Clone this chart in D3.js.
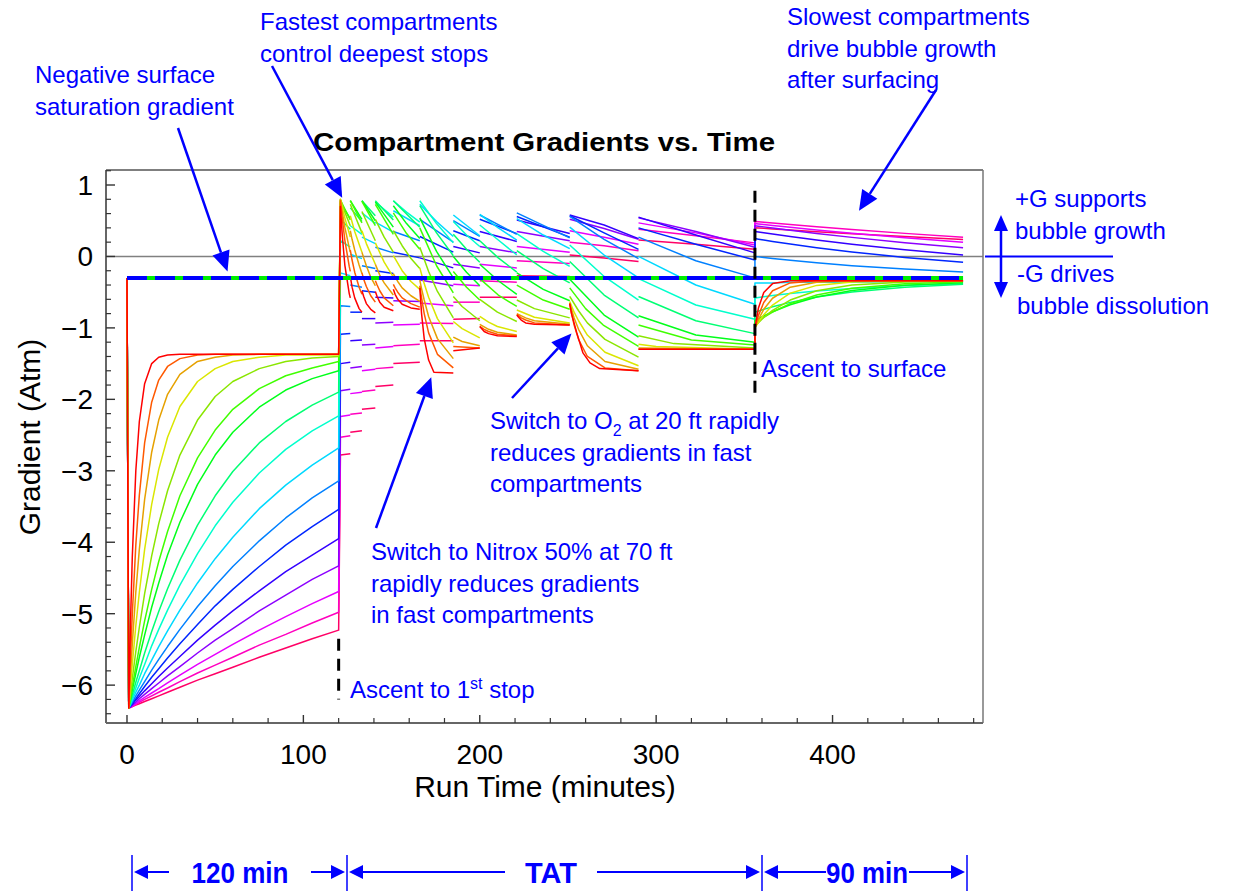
<!DOCTYPE html>
<html>
<head>
<meta charset="utf-8">
<script src="https://cdn.jsdelivr.net/npm/d3@7"></script>
<style>
  body { margin: 0; background: #fff; }
  svg text { font-family: "Liberation Sans", Arial, Helvetica, sans-serif; }
</style>
</head>
<body>
<div id="chart-area"></div>
<script>
// 17 tissue compartments, fastest (red) to slowest (crimson)

// bottom phase: descent at t=0, then on-gassing at depth until 120 min
const bottomTimes = [0, 1, 2, 3, 5, 7, 10, 14, 18, 23, 30, 40, 50, 60, 75, 90, 105, 120];
const bottomGradients = [
  [-0.30, -6.32, -5.12, -4.21, -3.00, -2.31, -1.78, -1.50, -1.41, -1.38, -1.37, -1.37, -1.37, -1.37, -1.37, -1.37, -1.37, -1.37],
  [-0.30, -6.32, -5.61, -5.01, -4.04, -3.34, -2.61, -2.04, -1.73, -1.54, -1.43, -1.38, -1.37, -1.37, -1.37, -1.37, -1.37, -1.37],
  [-0.30, -6.32, -5.85, -5.43, -4.70, -4.10, -3.40, -2.74, -2.29, -1.93, -1.65, -1.47, -1.41, -1.38, -1.37, -1.37, -1.37, -1.37],
  [-0.30, -6.32, -6.00, -5.71, -5.17, -4.70, -4.10, -3.47, -2.98, -2.53, -2.10, -1.75, -1.57, -1.47, -1.41, -1.38, -1.38, -1.38],
  [-0.30, -6.32, -6.11, -5.91, -5.53, -5.19, -4.72, -4.19, -3.74, -3.28, -2.78, -2.29, -1.96, -1.75, -1.57, -1.47, -1.42, -1.40],
  [-0.30, -6.32, -6.17, -6.02, -5.74, -5.47, -5.10, -4.66, -4.27, -3.85, -3.35, -2.82, -2.43, -2.14, -1.85, -1.67, -1.56, -1.47],
  [-0.30, -6.32, -6.20, -6.07, -5.84, -5.61, -5.30, -4.91, -4.57, -4.18, -3.72, -3.19, -2.78, -2.46, -2.11, -1.87, -1.71, -1.60],
  [-0.30, -6.32, -6.23, -6.14, -5.96, -5.80, -5.55, -5.25, -4.97, -4.65, -4.25, -3.76, -3.35, -3.01, -2.61, -2.31, -2.08, -1.90],
  [-0.30, -6.32, -6.25, -6.18, -6.04, -5.90, -5.71, -5.45, -5.22, -4.95, -4.60, -4.16, -3.77, -3.44, -3.03, -2.70, -2.44, -2.23],
  [-0.30, -6.32, -6.27, -6.21, -6.10, -6.00, -5.84, -5.65, -5.46, -5.24, -4.95, -4.57, -4.23, -3.93, -3.53, -3.20, -2.92, -2.68],
  [-0.30, -6.32, -6.28, -6.24, -6.15, -6.07, -5.95, -5.79, -5.64, -5.46, -5.22, -4.90, -4.61, -4.34, -3.98, -3.66, -3.38, -3.14],
  [-0.30, -6.32, -6.29, -6.25, -6.19, -6.12, -6.02, -5.89, -5.77, -5.62, -5.42, -5.15, -4.89, -4.66, -4.34, -4.04, -3.78, -3.54],
  [-0.30, -6.32, -6.30, -6.27, -6.21, -6.16, -6.08, -5.98, -5.88, -5.76, -5.60, -5.37, -5.16, -4.96, -4.68, -4.41, -4.18, -3.95],
  [-0.30, -6.32, -6.30, -6.28, -6.24, -6.19, -6.13, -6.05, -5.97, -5.87, -5.74, -5.55, -5.37, -5.21, -4.96, -4.74, -4.52, -4.33],
  [-0.30, -6.32, -6.31, -6.29, -6.26, -6.22, -6.17, -6.11, -6.05, -5.97, -5.86, -5.71, -5.57, -5.43, -5.23, -5.04, -4.86, -4.69],
  [-0.30, -6.32, -6.31, -6.30, -6.27, -6.24, -6.20, -6.15, -6.10, -6.04, -5.95, -5.83, -5.72, -5.61, -5.44, -5.29, -5.13, -4.98],
  [-0.30, -6.32, -6.31, -6.30, -6.28, -6.26, -6.23, -6.19, -6.15, -6.10, -6.03, -5.93, -5.84, -5.75, -5.61, -5.48, -5.35, -5.23]
];

// decompression stops: per compartment, per stop, [minute, gradient]
const decoTraces = [
  [ // 1
    [[121, 0.70], [122, 0.31], [123.5, -0.12], [126, -0.52], [126.6, -0.58]],
    [[126.6, -0.28], [127.6, -0.43], [129.1, -0.58], [131.6, -0.73], [133.2, -0.78]],
    [[133.2, -0.48], [134.2, -0.56], [135.7, -0.66], [138.2, -0.74], [140.8, -0.79]],
    [[140.8, -0.49], [141.8, -0.56], [143.3, -0.64], [145.8, -0.71], [151, -0.76]],
    [[151, -0.46], [152, -0.53], [153.5, -0.60], [156, -0.67], [161, -0.72], [166, -0.74]],
    [[166, -0.44], [167, -0.80], [168.5, -1.15], [171, -1.45], [174, -1.62], [185, -1.63]],
    [[185, -1.32], [200, -1.28]],
    [[200, -0.98], [201, -1.01], [202.5, -1.05], [205, -1.08], [210, -1.11], [221, -1.12]],
    [[221, -0.82], [222, -0.85], [223.5, -0.89], [226, -0.93], [231, -0.95], [251, -0.96]],
    [[251, -0.66], [252, -0.80], [255, -1.07], [258.5, -1.35], [262.5, -1.49], [268, -1.57], [290, -1.60]],
    [[290, -1.30], [356, -1.30]]
  ],
  [ // 2
    [[121, 0.78], [122, 0.54], [123.5, 0.23], [126, -0.14], [126.6, -0.21]],
    [[126.6, 0.09], [127.6, -0.05], [129.1, -0.22], [131.6, -0.43], [133.2, -0.53]],
    [[133.2, -0.23], [134.2, -0.32], [135.7, -0.42], [138.2, -0.55], [140.8, -0.64]],
    [[140.8, -0.34], [141.8, -0.40], [143.3, -0.48], [145.8, -0.58], [151, -0.69]],
    [[151, -0.39], [152, -0.44], [153.5, -0.50], [156, -0.58], [161, -0.66], [166, -0.71]],
    [[166, -0.41], [167, -0.58], [168.5, -0.80], [171, -1.07], [176, -1.37], [185, -1.56]],
    [[185, -1.26], [200, -1.28]],
    [[200, -0.98], [202.5, -1.02], [205, -1.05], [210, -1.09], [221, -1.11]],
    [[221, -0.81], [223.5, -0.86], [226, -0.89], [231, -0.93], [251, -0.96]],
    [[251, -0.66], [252, -0.79], [253.5, -0.96], [256, -1.16], [261, -1.40], [271, -1.56], [290, -1.60]],
    [[290, -1.30], [356, -1.30]]
  ],
  [ // 3
    [[121, 0.79], [122, 0.63], [123.5, 0.41], [126, 0.12], [126.6, 0.06]],
    [[126.6, 0.36], [127.6, 0.24], [129.1, 0.09], [131.6, -0.12], [133.2, -0.24]],
    [[133.2, 0.06], [134.2, -0.02], [135.7, -0.13], [138.2, -0.29], [140.8, -0.41]],
    [[140.8, -0.11], [141.8, -0.17], [143.3, -0.26], [145.8, -0.37], [151, -0.54]],
    [[151, -0.24], [152, -0.29], [153.5, -0.35], [156, -0.44], [161, -0.55], [166, -0.63]],
    [[166, -0.33], [167, -0.45], [168.5, -0.61], [171, -0.84], [176, -1.15], [185, -1.43]],
    [[185, -1.13], [190, -1.19], [200, -1.25]],
    [[200, -0.95], [205, -1.02], [210, -1.06], [221, -1.10]],
    [[221, -0.80], [226, -0.86], [231, -0.90], [251, -0.95]],
    [[251, -0.65], [252, -0.74], [253.5, -0.86], [256, -1.02], [261, -1.25], [271, -1.47], [290, -1.58]],
    [[290, -1.28], [356, -1.30]]
  ],
  [ // 4
    [[121, 0.80], [123.5, 0.54], [126.6, 0.27]],
    [[126.6, 0.57], [129.1, 0.35], [133.2, 0.06]],
    [[133.2, 0.36], [135.7, 0.18], [140.8, -0.11]],
    [[140.8, 0.19], [145.8, -0.08], [151, -0.29]],
    [[151, 0.01], [156, -0.20], [161, -0.35], [166, -0.46]],
    [[166, -0.16], [168.5, -0.38], [171, -0.57], [176, -0.87], [185, -1.21]],
    [[185, -0.91], [190, -1.01], [200, -1.14]],
    [[200, -0.84], [205, -0.92], [210, -0.98], [221, -1.05]],
    [[221, -0.75], [231, -0.85], [251, -0.93]],
    [[251, -0.63], [253.5, -0.78], [256, -0.90], [261, -1.10], [271, -1.34], [290, -1.53]],
    [[290, -1.23], [300, -1.26], [356, -1.30]]
  ],
  [ // 5
    [[121, 0.80], [123.5, 0.62], [126.6, 0.43]],
    [[126.6, 0.73], [133.2, 0.33]],
    [[133.2, 0.63], [140.8, 0.22]],
    [[140.8, 0.52], [145.8, 0.27], [151, 0.06]],
    [[151, 0.36], [156, 0.15], [161, -0.03], [166, -0.17]],
    [[166, 0.13], [171, -0.21], [176, -0.49], [185, -0.86]],
    [[185, -0.56], [190, -0.70], [200, -0.90]],
    [[200, -0.60], [210, -0.78], [221, -0.91]],
    [[221, -0.61], [231, -0.73], [251, -0.86]],
    [[251, -0.56], [256, -0.76], [261, -0.93], [271, -1.16], [290, -1.41]],
    [[290, -1.11], [310, -1.22], [356, -1.28]]
  ],
  [ // 6
    [[121, 0.79], [126.6, 0.51]],
    [[126.6, 0.78], [133.2, 0.47]],
    [[133.2, 0.77], [140.8, 0.43]],
    [[140.8, 0.73], [151, 0.31]],
    [[151, 0.61], [158.5, 0.32], [166, 0.10]],
    [[166, 0.40], [175.5, -0.13], [185, -0.51]],
    [[185, -0.21], [192.5, -0.43], [200, -0.61]],
    [[200, -0.31], [210.5, -0.54], [221, -0.70]],
    [[221, -0.40], [236, -0.61], [251, -0.74]],
    [[251, -0.44], [260, -0.73], [270, -0.96], [290, -1.26]],
    [[290, -0.96], [320, -1.17], [356, -1.24]]
  ],
  [ // 7
    [[121, 0.75], [126.6, 0.53]],
    [[126.6, 0.78], [133.2, 0.52]],
    [[133.2, 0.78], [140.8, 0.50]],
    [[140.8, 0.76], [151, 0.41]],
    [[151, 0.71], [158.5, 0.46], [166, 0.25]],
    [[166, 0.54], [175.5, 0.07], [185, -0.30]],
    [[185, 0.00], [192.5, -0.22], [200, -0.41]],
    [[200, -0.11], [210.5, -0.34], [221, -0.53]],
    [[221, -0.23], [236, -0.46], [251, -0.62]],
    [[251, -0.32], [270.5, -0.82], [290, -1.13]],
    [[290, -0.83], [322.5, -1.10], [356, -1.20]]
  ],
  [ // 8
    [[121, 0.52], [126.6, 0.38]],
    [[126.6, 0.68], [133.2, 0.49]],
    [[133.2, 0.78], [140.8, 0.57]],
    [[140.8, 0.78], [151, 0.51]],
    [[151, 0.78], [166, 0.41]],
    [[166, 0.71], [175.5, 0.33], [185, 0.01]],
    [[185, 0.31], [192.5, 0.10], [200, -0.08]],
    [[200, 0.22], [210.5, -0.02], [221, -0.22]],
    [[221, 0.08], [236, -0.17], [251, -0.37]],
    [[251, -0.07], [270.5, -0.54], [290, -0.86]],
    [[290, -0.56], [322.5, -0.90], [356, -1.08]]
  ],
  [ // 9
    [[121, 0.22], [126.6, 0.13]],
    [[126.6, 0.43], [133.2, 0.31]],
    [[133.2, 0.61], [140.8, 0.46]],
    [[140.8, 0.76], [151, 0.55]],
    [[151, 0.78], [158.5, 0.62], [166, 0.48]],
    [[166, 0.78], [175.5, 0.46], [185, 0.19]],
    [[185, 0.49], [192.5, 0.30], [200, 0.14]],
    [[200, 0.44], [210.5, 0.23], [221, 0.02]],
    [[221, 0.32], [236, 0.07], [251, -0.14]],
    [[251, 0.16], [270.5, -0.28], [290, -0.61]],
    [[290, -0.31], [322.5, -0.68], [356, -0.88]]
  ],
  [ // 10
    [[121, -0.23], [126.6, -0.27]],
    [[126.6, 0.03], [133.2, -0.03]],
    [[133.2, 0.27], [140.8, 0.18]],
    [[140.8, 0.48], [151, 0.34]],
    [[151, 0.64], [166, 0.43]],
    [[166, 0.73], [175.5, 0.49], [185, 0.28]],
    [[185, 0.58], [200, 0.29]],
    [[200, 0.59], [210.5, 0.40], [221, 0.23]],
    [[221, 0.53], [236, 0.30], [251, 0.11]],
    [[251, 0.41], [270.5, 0.02], [290, -0.30]],
    [[290, 0.00], [322.5, -0.40], [356, -0.67]]
  ],
  [ // 11
    [[121, -0.69], [126.6, -0.70]],
    [[126.6, -0.40], [133.2, -0.43]],
    [[133.2, -0.13], [140.8, -0.17]],
    [[140.8, 0.13], [151, 0.05]],
    [[151, 0.35], [166, 0.22]],
    [[166, 0.52], [185, 0.20]],
    [[185, 0.50], [200, 0.28]],
    [[200, 0.58], [221, 0.31]],
    [[221, 0.61], [251, 0.26]],
    [[251, 0.56], [270.5, 0.24], [290, -0.03]],
    [[290, 0.27], [322.5, -0.06], [356, -0.30]]
  ],
  [ // 12
    [[121, -1.09], [126.6, -1.08]],
    [[126.6, -0.78], [133.2, -0.78]],
    [[133.2, -0.48], [140.8, -0.50]],
    [[140.8, -0.20], [151, -0.24]],
    [[151, 0.06], [166, -0.02]],
    [[166, 0.28], [185, 0.06]],
    [[185, 0.36], [200, 0.22]],
    [[200, 0.52], [221, 0.32]],
    [[221, 0.56], [251, 0.27]],
    [[251, 0.57], [270.5, 0.33], [290, 0.10]],
    [[290, 0.40], [322.5, 0.17], [356, -0.05]]
  ],
  [ // 13
    [[121, -1.50], [126.6, -1.48]],
    [[126.6, -1.18], [133.2, -1.17]],
    [[133.2, -0.87], [140.8, -0.87]],
    [[140.8, -0.57], [151, -0.58]],
    [[151, -0.28], [166, -0.32]],
    [[166, -0.02], [185, -0.16]],
    [[185, 0.14], [200, 0.05]],
    [[200, 0.35], [221, 0.21]],
    [[221, 0.51], [251, 0.32]],
    [[251, 0.58], [270.5, 0.44], [290, 0.25]],
    [[290, 0.55], [322.5, 0.30], [356, 0.05]]
  ],
  [ // 14
    [[121, -1.88], [126.6, -1.86]],
    [[126.6, -1.56], [133.2, -1.54]],
    [[133.2, -1.24], [140.8, -1.23]],
    [[140.8, -0.93], [151, -0.92]],
    [[151, -0.62], [166, -0.63]],
    [[166, -0.33], [185, -0.41]],
    [[185, -0.11], [200, -0.16]],
    [[200, 0.14], [221, 0.05]],
    [[221, 0.35], [251, 0.22]],
    [[251, 0.52], [270.5, 0.39], [290, 0.24]],
    [[290, 0.54], [322.5, 0.35], [356, 0.13]]
  ],
  [ // 15
    [[121, -2.24], [126.6, -2.22]],
    [[126.6, -1.92], [133.2, -1.90]],
    [[133.2, -1.60], [140.8, -1.58]],
    [[140.8, -1.28], [151, -1.26]],
    [[151, -0.96], [166, -0.95]],
    [[166, -0.65], [185, -0.69]],
    [[185, -0.39], [200, -0.41]],
    [[200, -0.11], [221, -0.16]],
    [[221, 0.14], [251, 0.06]],
    [[251, 0.36], [270.5, 0.27], [290, 0.17]],
    [[290, 0.47], [322.5, 0.33], [356, 0.16]]
  ],
  [ // 16
    [[121, -2.53], [126.6, -2.51]],
    [[126.6, -2.21], [133.2, -2.19]],
    [[133.2, -1.89], [140.8, -1.87]],
    [[140.8, -1.57], [151, -1.55]],
    [[151, -1.25], [166, -1.23]],
    [[166, -0.93], [185, -0.94]],
    [[185, -0.64], [200, -0.64]],
    [[200, -0.34], [221, -0.36]],
    [[221, -0.06], [251, -0.10]],
    [[251, 0.20], [270.5, 0.15], [290, 0.08]],
    [[290, 0.38], [322.5, 0.29], [356, 0.19]]
  ],
  [ // 17
    [[121, -2.78], [126.6, -2.76]],
    [[126.6, -2.46], [133.2, -2.44]],
    [[133.2, -2.14], [140.8, -2.12]],
    [[140.8, -1.82], [151, -1.80]],
    [[151, -1.50], [166, -1.48]],
    [[166, -1.18], [185, -1.18]],
    [[185, -0.88], [200, -0.87]],
    [[200, -0.57], [221, -0.57]],
    [[221, -0.27], [251, -0.28]],
    [[251, 0.02], [270.5, -0.02], [290, -0.07]],
    [[290, 0.23], [322.5, 0.17], [356, 0.10]]
  ]
];

// after surfacing
const surfaceTimes = [356, 358, 361, 366, 376, 391, 411, 441, 474];
const surfaceGradients = [
  [-1.00, -0.72, -0.505, -0.38, -0.34, -0.34, -0.34, -0.34, -0.34],
  [-1.00, -0.825, -0.645, -0.48, -0.37, -0.34, -0.34, -0.34, -0.34],
  [-1.00, -0.88, -0.74, -0.585, -0.43, -0.36, -0.34, -0.34, -0.34],
  [-1.00, -0.92, -0.815, -0.68, -0.515, -0.405, -0.357, -0.342, -0.34],
  [-0.98, -0.927, -0.855, -0.755, -0.61, -0.48, -0.40, -0.356, -0.344],
  [-0.94, -0.903, -0.852, -0.778, -0.66, -0.539, -0.446, -0.381, -0.355],
  [-0.90, -0.872, -0.832, -0.773, -0.675, -0.568, -0.476, -0.403, -0.367],
  [-0.78, -0.764, -0.741, -0.705, -0.643, -0.568, -0.497, -0.430, -0.388],
  [-0.58, -0.573, -0.563, -0.547, -0.519, -0.483, -0.447, -0.408, -0.382],
  [-0.37, -0.37, -0.37, -0.37, -0.36, -0.36, -0.36, -0.35, -0.35],
  [0.00, -0.006, -0.014, -0.028, -0.054, -0.089, -0.129, -0.177, -0.218],
  [0.25, 0.242, 0.23, 0.21, 0.174, 0.123, 0.063, -0.013, -0.08],
  [0.35, 0.342, 0.331, 0.313, 0.279, 0.23, 0.171, 0.094, 0.022],
  [0.43, 0.423, 0.414, 0.398, 0.366, 0.321, 0.267, 0.193, 0.122],
  [0.46, 0.454, 0.446, 0.434, 0.408, 0.371, 0.326, 0.262, 0.198],
  [0.49, 0.486, 0.479, 0.468, 0.448, 0.417, 0.378, 0.323, 0.268],
  [0.40, 0.397, 0.393, 0.384, 0.37, 0.347, 0.319, 0.279, 0.238]
];

// reference line: surface saturation gradient
const surfaceSatTimes = [0, 474];
const surfaceSatGradient = -0.30;

// event markers (minutes)
const ascentFirstStop = 120;
const ascentSurface = 356;

const xTicks = [0, 100, 200, 300, 400];
const yTicks = [1, 0, -1, -2, -3, -4, -5, -6];

const width = 1245, height = 891;
const svg = d3.select("#chart-area").append("svg")
  .attr("width", width)
  .attr("height", height);

const x = d3.scaleLinear().domain([-11.9, 485.3]).range([106, 983]);
const y = d3.scaleLinear().domain([-6.53, 1.21]).range([723, 170]);

const colour = i => {
  const h = i * 21;
  return d3.hsl(h, 1, h > 40 && h < 100 ? 0.45 : 0.5).formatHex();
};

svg.append("clipPath").attr("id", "plot-clip")
  .append("rect")
  .attr("x", x.range()[0]).attr("y", y.range()[1])
  .attr("width", x.range()[1] - x.range()[0])
  .attr("height", y.range()[0] - y.range()[1]);

// zero line
svg.append("line")
  .attr("x1", x.range()[0]).attr("x2", x.range()[1])
  .attr("y1", y(0)).attr("y2", y(0))
  .attr("stroke", "#808080")
  .attr("stroke-width", 1.6);

const line = d3.line().x(d => x(d[0])).y(d => y(d[1]));

const plot = svg.append("g").attr("clip-path", "url(#plot-clip)");

// slowest drawn first so the fast compartments sit on top
decoTraces.map((stops, i) => ({ stops, i })).reverse().forEach(({ stops, i }) => {
  const bottom = bottomTimes.map((t, j) => [t, bottomGradients[i][j]]);
  const surf = surfaceTimes.map((t, j) => [t, surfaceGradients[i][j]]);
  const pieces = [bottom.concat(stops[0])]
    .concat(stops.slice(1, -1))
    .concat([stops[stops.length - 1].concat(surf)]);
  plot.selectAll(null)
    .data(pieces)
    .enter()
    .append("path")
    .attr("d", line)
    .attr("fill", "none")
    .attr("stroke", colour(i))
    .attr("stroke-width", 1.5)
    .attr("stroke-linejoin", "round");
});

// surface saturation gradient: green under blue dashes
const satLine = surfaceSatTimes.map(t => [t, surfaceSatGradient]);
plot.append("path")
  .attr("d", line(satLine))
  .attr("stroke", "#00ee00")
  .attr("stroke-width", 4)
  .attr("fill", "none");
plot.append("path")
  .attr("d", line(satLine))
  .attr("stroke", "#0000ff")
  .attr("stroke-width", 4)
  .attr("stroke-dasharray", "20,8")
  .attr("fill", "none");

// ascent markers
svg.append("line")
  .attr("x1", x(ascentFirstStop)).attr("x2", x(ascentFirstStop))
  .attr("y1", y(-5.35)).attr("y2", y(-6.2))
  .attr("stroke", "#000").attr("stroke-width", 3)
  .attr("stroke-dasharray", "12,8");
svg.append("line")
  .attr("x1", x(ascentSurface)).attr("x2", x(ascentSurface))
  .attr("y1", y(0.92)).attr("y2", y(-1.98))
  .attr("stroke", "#000").attr("stroke-width", 3)
  .attr("stroke-dasharray", "12,7");

// frame
const [x0, x1] = x.range();
const [y1, y0] = [y.range()[0], y.range()[1]];
svg.append("line").attr("x1", x0).attr("x2", x1).attr("y1", y0).attr("y2", y0)
  .attr("stroke", "#000").attr("stroke-width", 1.2);
svg.append("line").attr("x1", x1).attr("x2", x1).attr("y1", y0).attr("y2", y1)
  .attr("stroke", "#777").attr("stroke-width", 1.5);
svg.append("line").attr("x1", x0).attr("x2", x0).attr("y1", y0).attr("y2", y1)
  .attr("stroke", "#666").attr("stroke-width", 2);
svg.append("line").attr("x1", x0).attr("x2", x1).attr("y1", y1).attr("y2", y1)
  .attr("stroke", "#666").attr("stroke-width", 2);

// x ticks
const xMinor = d3.range(20, 481, 20).filter(t => !xTicks.includes(t));
svg.selectAll(null).data(xMinor).enter().append("line")
  .attr("x1", d => x(d)).attr("x2", d => x(d))
  .attr("y1", y1).attr("y2", y1 - 5)
  .attr("stroke", "#333").attr("stroke-width", 1.2);
svg.selectAll(null).data(xTicks).enter().append("line")
  .attr("x1", d => x(d)).attr("x2", d => x(d))
  .attr("y1", y1).attr("y2", y1 - 8)
  .attr("stroke", "#333").attr("stroke-width", 1.4);
svg.selectAll(null).data(xTicks).enter().append("text")
  .attr("x", d => x(d)).attr("y", 764)
  .attr("text-anchor", "middle")
  .attr("font-size", 28)
  .text(d => d);

// y ticks
const yMinor = d3.range(-32, 7).map(v => v / 5).filter(v => !Number.isInteger(v));
svg.selectAll(null).data(yMinor).enter().append("line")
  .attr("x1", x0).attr("x2", x0 + 5)
  .attr("y1", d => y(d)).attr("y2", d => y(d))
  .attr("stroke", "#333").attr("stroke-width", 1.2);
svg.selectAll(null).data(yTicks).enter().append("line")
  .attr("x1", x0).attr("x2", x0 + 9)
  .attr("y1", d => y(d)).attr("y2", d => y(d))
  .attr("stroke", "#333").attr("stroke-width", 1.4);
svg.selectAll(null).data(yTicks).enter().append("text")
  .attr("x", 93).attr("y", d => y(d) + 10)
  .attr("text-anchor", "end")
  .attr("font-size", 28)
  .text(d => d3.format("d")(d));

// axis titles
svg.append("text")
  .attr("x", 545).attr("y", 797)
  .attr("text-anchor", "middle")
  .attr("font-size", 30)
  .text("Run Time (minutes)");
svg.append("text")
  .attr("transform", "translate(40,437) rotate(-90)")
  .attr("text-anchor", "middle")
  .attr("font-size", 30)
  .text("Gradient (Atm)");

svg.append("text")
  .attr("x", 313).attr("y", 151)
  .attr("font-size", 25)
  .attr("font-weight", "bold")
  .attr("textLength", 462)
  .attr("lengthAdjust", "spacingAndGlyphs")
  .text("Compartment Gradients vs. Time");

// annotations
const blue = "#0000ff";
const note = (tx, ty, lines) => {
  lines.forEach((l, k) => {
    const t = svg.append("text")
      .attr("x", tx).attr("y", ty + k * 31.5)
      .attr("font-size", 24)
      .attr("fill", blue);
    [].concat(l).forEach(part => {
      if (typeof part === "string") t.append("tspan").text(part);
      else t.append("tspan").attr("font-size", 16).attr("dy", part.dy).text(part.s)
        .clone().attr("font-size", 24).attr("dy", -part.dy).text(part.after);
    });
  });
};

note(35, 83, ["Negative surface", "saturation gradient"]);
note(260, 30, ["Fastest compartments", "control deepest stops"]);
note(787, 25, ["Slowest compartments", "drive bubble growth", "after surfacing"]);
note(1015, 207, ["+G supports", "bubble growth"]);
note(1017, 282, ["-G drives", "bubble dissolution"]);
note(761, 377, ["Ascent to surface"]);
note(490, 429, [["Switch to O", { s: "2", dy: 7, after: " at 20 ft rapidly" }], "reduces gradients in fast", "compartments"]);
note(371, 560, ["Switch to Nitrox 50% at 70 ft", "rapidly reduces gradients", "in fast compartments"]);
note(350, 698, [["Ascent to 1", { s: "st", dy: -9, after: " stop" }]]);

const arrow = (ax, ay, bx, by, len = 20, half = 9, w = 2.5) => {
  const a = Math.atan2(by - ay, bx - ax);
  const cx = bx - len * Math.cos(a), cy = by - len * Math.sin(a);
  svg.append("line")
    .attr("x1", ax).attr("y1", ay).attr("x2", cx).attr("y2", cy)
    .attr("stroke", blue).attr("stroke-width", w);
  const px = -Math.sin(a) * half, py = Math.cos(a) * half;
  svg.append("path")
    .attr("d", `M${bx},${by}L${cx + px},${cy + py}L${cx - px},${cy - py}Z`)
    .attr("fill", blue);
};

arrow(178, 128, x(57), y(-0.21));
arrow(272, 66, x(122), y(0.82));
arrow(936, 90, x(415), y(0.64));
arrow(376, 528, x(172.5), y(-1.69));
arrow(512, 398, x(252), y(-1.08));

// right-hand G legend
svg.append("line").attr("x1", 985).attr("x2", 1113).attr("y1", y(0)).attr("y2", y(0))
  .attr("stroke", blue).attr("stroke-width", 2);
arrow(1001, y(0), 1001, 215, 16, 7, 2.5);
arrow(1001, y(0), 1001, 298, 16, 7, 2.5);

// bottom span annotation
const spanY = 872;
[132, 347, 762, 967].forEach(bx => {
  svg.append("line").attr("x1", bx).attr("x2", bx).attr("y1", 855).attr("y2", 891)
    .attr("stroke", blue).attr("stroke-width", 1.5);
});
arrow(169, spanY, 134, spanY, 14, 7, 2);
arrow(311, spanY, 345, spanY, 14, 7, 2);
arrow(505, spanY, 349, spanY, 14, 7, 2);
arrow(597, spanY, 760, spanY, 14, 7, 2);
arrow(826, spanY, 764, spanY, 14, 7, 2);
arrow(909, spanY, 965, spanY, 14, 7, 2);
[["120 min", 240, 97], ["TAT", 551, 52], ["90 min", 867, 82]].forEach(([s, cx, w]) => {
  svg.append("text")
    .attr("x", cx - w / 2).attr("y", spanY + 11)
    .attr("font-size", 30)
    .attr("font-weight", "bold")
    .attr("fill", blue)
    .attr("textLength", w)
    .attr("lengthAdjust", "spacingAndGlyphs")
    .text(s);
});
</script>
</body>
</html>
